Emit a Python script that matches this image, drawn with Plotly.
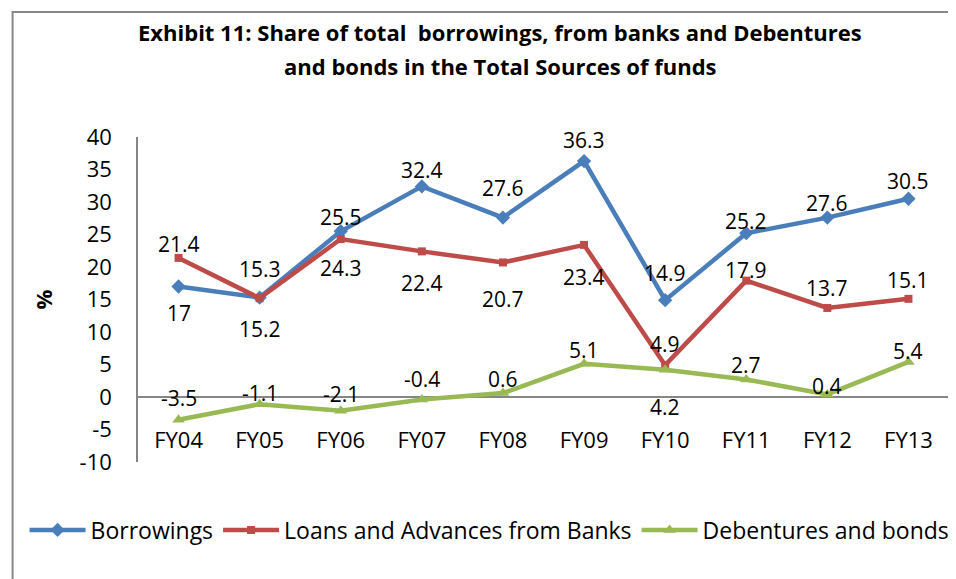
import plotly.graph_objects as go

categories = ["FY04", "FY05", "FY06", "FY07", "FY08", "FY09", "FY10", "FY11", "FY12", "FY13"]
borrowings = [17, 15.3, 25.5, 32.4, 27.6, 36.3, 14.9, 25.2, 27.6, 30.5]
loans = [21.4, 15.2, 24.3, 22.4, 20.7, 23.4, 4.9, 17.9, 13.7, 15.1]
debentures = [-3.5, -1.1, -2.1, -0.4, 0.6, 5.1, 4.2, 2.7, 0.4, 5.4]
y_tickvals = [-10, -5, 0, 5, 10, 15, 20, 25, 30, 35, 40]
y_ticktext = ["-10", "-5", "0", "5", "10", "15", "20", "25", "30", "35", "40"]

# data-label offsets in px (positive = above the point, negative = below)
borrow_off = [-26, 29, 14, 16, 30, 21, 27, 12, 15, 18]
loans_off = [14, -31, -29, -32, -37, -32, 21, 11, 20, 19]
deb_off = [22, 11, 17, 21, 14, 14, -37, 14, 8, 11]

FONT = "Open Sans"
BODY = 8  # page body margin
W, H = 948, 571
L, R, T, B = 129.5, 7, 129, 117
pw, ph = W - L - R, H - T - B


def px_x(px):
    return (px - BODY - L) / pw


def px_y(py):
    return (H - B - (py - BODY)) / ph


series = [
    ("Borrowings", borrowings, borrow_off, "#4A7EBB", "diamond", 11),
    ("Loans and Advances from Banks", loans, loans_off, "#BE4B48", "square", 8),
    ("Debentures and bonds", debentures, deb_off, "#98B954", "triangle-up", 11),
]

fig = go.Figure()
annotations = []
for name, vals, offs, color, sym, msize in series:
    fig.add_trace(go.Scatter(
        x=categories, y=vals, name=name, mode="lines+markers",
        line=dict(color=color, width=4.5),
        marker=dict(symbol=sym, size=msize, color=color),
    ))
    for c, v, o in zip(categories, vals, offs):
        annotations.append(dict(
            x=c, y=v, xref="x", yref="y", text=f"{v:g}", showarrow=False,
            yshift=o, font=dict(family=FONT, size=21, color="black"),
        ))

title_font = dict(family=FONT, size=22, color="black")
annotations.append(dict(
    x=px_x(500), y=px_y(32), xref="paper", yref="paper", showarrow=False,
    text="<b>Exhibit 11: Share of total  borrowings, from banks and Debentures</b>",
    font=title_font, xanchor="center", yanchor="middle"))
annotations.append(dict(
    x=px_x(500), y=px_y(66), xref="paper", yref="paper", showarrow=False,
    text="<b>and bonds in the Total Sources of funds</b>",
    font=title_font, xanchor="center", yanchor="middle"))
annotations.append(dict(
    x=px_x(42), y=px_y(300), xref="paper", yref="paper", showarrow=False,
    text="<b>%</b>", textangle=-90,
    font=title_font, xanchor="center", yanchor="middle"))

fig.update_layout(
    width=W, height=H,
    margin=dict(l=L, r=R, t=T, b=B),
    paper_bgcolor="white", plot_bgcolor="white",
    font=dict(family=FONT, size=22, color="black"),
    showlegend=True,
    legend=dict(orientation="h", x=px_x(24), y=px_y(530), xanchor="left", yanchor="middle",
                font=dict(family=FONT, size=23, color="black"), itemwidth=56,
                bgcolor="rgba(0,0,0,0)"),
    annotations=annotations,
    xaxis=dict(type="category", range=[-0.5, 9.5], showgrid=False, showline=False,
               ticks="", anchor="free", position=px_y(425),
               tickfont=dict(family=FONT, size=22, color="black")),
    yaxis=dict(range=[-10, 40], tickvals=y_tickvals, ticktext=y_ticktext,
               showgrid=False, showline=True,
               linecolor="#868686", linewidth=1.5, ticks="",
               zeroline=True, zerolinecolor="#868686", zerolinewidth=1.5,
               ticklabelstandoff=20,
               tickfont=dict(family=FONT, size=22, color="black")),
    shapes=[dict(type="rect", xref="paper", yref="paper",
                 x0=px_x(12), x1=px_x(975), y0=px_y(600), y1=px_y(12),
                 line=dict(color="#888888", width=2), layer="below")],
)

fig.write_html("out.html")
